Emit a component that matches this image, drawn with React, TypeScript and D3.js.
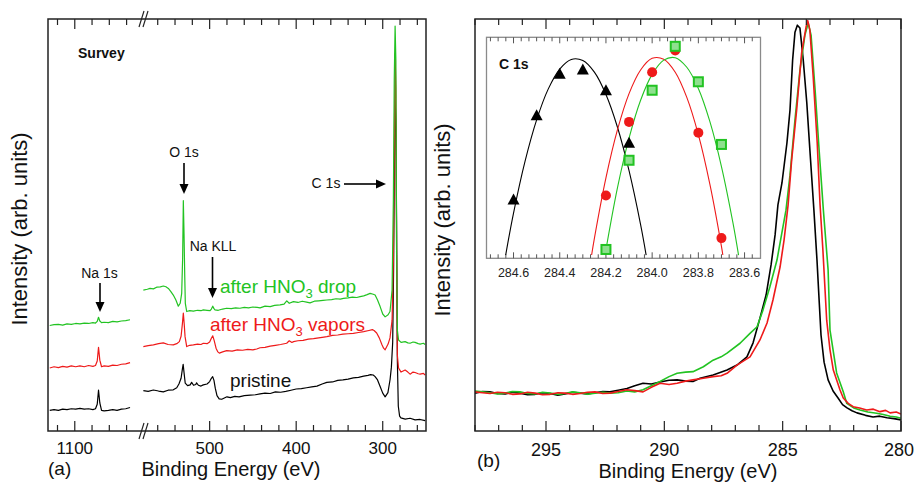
import React from "react";
import * as d3 from "d3";

type P = [number, number];

// ---------------- (a) Survey: Na 1s window (eV, intensity) ----------------
const naBlack: P[] = [[1129,5.0],[1124,5.2],[1119,5.0],[1114,5.3],[1109,5.2],[1104,5.4],[1099,5.3],[1094,5.5],[1089,5.3],[1084,5.4],[1079,5.2],[1076,5.4],[1074,6.5],[1072.5,9.9],[1071,6.8],[1069,5.0],[1066,4.9],[1061,5.0],[1056,5.2],[1051,5.0],[1046,5.3],[1041,5.4],[1036,5.7]];
const naRed: P[] = [[1129,15.3],[1124,15.6],[1119,15.4],[1114,15.7],[1109,15.5],[1104,15.8],[1099,15.6],[1094,15.8],[1089,15.6],[1084,15.9],[1079,15.7],[1076,15.9],[1074,17.0],[1072.5,20.3],[1071,17.2],[1069,15.6],[1066,15.8],[1061,15.7],[1056,16.0],[1051,15.9],[1046,16.2],[1041,16.3],[1036,16.6]];
const naGreen: P[] = [[1129,25.6],[1124,25.8],[1119,25.9],[1114,25.7],[1109,26.0],[1104,25.9],[1099,26.1],[1094,26.0],[1089,26.2],[1084,26.1],[1079,26.3],[1076,26.2],[1074,26.6],[1072.5,27.6],[1071,26.7],[1069,26.3],[1066,26.4],[1061,26.3],[1056,26.6],[1051,26.5],[1046,26.7],[1041,26.8],[1036,27.0]];

// ---------------- (a) Survey: main window ----------------
const surveyBlack: P[] = [[576.6,9.8],[571,9.6],[565,9.95],[559,9.7],[553.5,9.5],[548,9.9],[542,10.0],[538,10.5],[535.5,11.4],[533,12.8],[531.5,15.0],[530.6,16.2],[529.6,14.2],[528.2,11.6],[525.5,11.0],[522.5,11.2],[520.8,11.8],[518.6,11.1],[516,11.3],[515.1,11.7],[513,11.1],[510,10.9],[507.4,11.2],[503,11.4],[500,12.0],[498,12.8],[496.5,13.2],[495,12.3],[493.5,10.4],[491.5,8.6],[489,7.8],[486,7.7],[483,8.0],[480,8.3],[476,8.1],[471,8.4],[466,8.3],[460,8.6],[453,8.7],[447,8.8],[441.7,9.0],[436,9.2],[430,9.1],[424,9.5],[418,9.4],[412,9.6],[406,9.9],[400,10.2],[394,10.3],[388,10.5],[382,10.7],[376,10.9],[370,11.4],[364.6,11.8],[358,11.9],[352,12.3],[346,12.4],[340,12.6],[334,12.9],[328,13.0],[322,13.3],[317,13.5],[314,13.7],[311,13.6],[308.8,13.2],[306,12.4],[303,10.8],[300,9.2],[297.2,8.3],[294,9.3],[291.5,12.5],[290,15.5],[288.5,21.5],[287.4,40],[286.5,65],[285.7,80.3],[284.8,75.5],[284.0,51.2],[283.1,17.2],[282,6],[280.5,3.6],[279,3.2],[274,2.9],[268.4,3.1],[262.6,2.7],[256.8,2.8],[251,2.5]];
const surveyRed: P[] = [[576.6,20.5],[571,20.7],[565,20.9],[559,21.2],[553.5,21.4],[548,21.0],[542,20.9],[538,21.2],[535,21.7],[533,23.0],[531.5,26.0],[530.4,28.6],[529.4,26.0],[528.4,22.9],[526.5,20.5],[523,20.8],[518.8,20.9],[514,21.1],[510,21.0],[507.3,21.3],[503,21.2],[500,21.6],[498,22.5],[496.4,23.1],[494.8,22.0],[492.6,20.1],[490.5,19.2],[488.8,18.9],[485,19.2],[480.3,19.5],[474,19.4],[468,19.7],[462,19.6],[456,19.8],[450,19.7],[445.6,19.9],[441.7,20.2],[436,20.3],[430,20.6],[424,20.8],[418,21.0],[411,21.3],[408,21.9],[405,21.5],[403,21.7],[398,21.9],[392,22.0],[386,22.3],[380,22.4],[374,22.6],[368,22.8],[364.6,22.9],[358,23.2],[352,23.3],[346,23.5],[340,23.6],[334,23.7],[328,23.9],[322,24.1],[316,24.4],[312,24.6],[310,24.4],[307,23.8],[304,22.6],[301,21.0],[299,20.1],[297.2,19.7],[293.8,21.1],[291.6,22.6],[289.2,26.9],[287.7,41.5],[286.7,68.2],[285.7,91.7],[284.8,82.8],[284.0,43.9],[283.1,18.4],[281.7,15.3],[278.8,14.3],[274.1,14.8],[271,14.3],[268.4,13.8],[265,14.3],[262.6,14.2],[259,13.9],[256.8,13.8],[253,14.0],[251,13.6]];
const surveyGreen: P[] = [[576.6,34.2],[572,34.4],[568.9,34.6],[565,34.5],[561.2,34.9],[557,35.0],[553.5,35.2],[550.5,35.0],[547.7,34.6],[545,33.9],[542,33.0],[539,31.8],[536.2,30.3],[534,31.0],[532.3,33.4],[531.2,42],[530.4,55.9],[529.6,48],[528.8,38],[528.1,31.0],[526.5,29.0],[523,29.2],[518.8,29.1],[514,29.3],[510,29.2],[507.3,29.4],[503,29.3],[499.5,29.2],[498,29.6],[496.4,30.3],[495,29.7],[493.8,29.4],[490,29.3],[485,29.6],[480.3,29.8],[475,29.7],[470,29.9],[465,29.8],[460,30.0],[455,29.9],[450,30.1],[445,30.0],[441.7,29.9],[436,30.3],[430,30.2],[425,30.5],[418.6,30.6],[414,30.8],[410.9,31.6],[408,31.0],[403.2,31.4],[398,31.2],[393,31.5],[388,31.3],[384,31.1],[379,31.5],[374,31.6],[369,31.7],[364.6,31.8],[359,31.9],[354,32.1],[349,32.0],[345.4,32.2],[340,32.3],[335,32.5],[330,32.4],[326.1,32.6],[322,32.8],[318,33.1],[314.6,33.4],[311,33.2],[308.8,33.0],[306,31.8],[303,30.2],[300,28.4],[297.2,27.7],[293.8,28.2],[291.6,29.0],[289.2,34.2],[287.7,56.1],[286.7,85.2],[285.7,98.3],[284.8,90.0],[284.0,43.9],[283.1,24.5],[281.7,22.1],[278.8,21.5],[274.1,21.7],[271,21.4],[268.4,21.3],[265,21.6],[262.6,21.5],[259,21.2],[256.8,21.1],[253,21.3],[251,21.0]];

// ---------------- (b) C 1s high resolution ----------------
const c1sBlack: P[] = [[298.0,9.2],[297.68,9.6],[297.37,9.5],[297.05,9.1],[296.73,9.0],[296.42,9.4],[296.1,9.2],[295.78,8.8],[295.46,8.9],[295.15,9.3],[294.83,9.1],[294.5,8.7],[294.2,9.0],[293.88,9.4],[293.56,9.2],[293.25,9.0],[292.93,9.3],[292.6,9.6],[292.3,9.5],[291.95,9.9],[291.58,10.3],[291.25,11.0],[290.9,11.6],[290.55,11.4],[290.18,11.9],[289.8,12.3],[289.46,12.4],[289.1,12.1],[288.79,12.0],[288.49,12.8],[287.94,13.6],[287.35,14.8],[286.93,16.0],[286.51,18.0],[286.25,21.4],[285.96,27.4],[285.7,33.0],[285.49,40.3],[285.32,47.6],[285.2,54.9],[285.03,60.2],[284.82,69.9],[284.69,77.9],[284.58,90.0],[284.48,96.8],[284.38,98.5],[284.27,97.8],[284.13,90.0],[283.98,79.6],[283.85,68.2],[283.68,53.6],[283.55,41.5],[283.46,31.8],[283.38,23.3],[283.25,16.7],[283.08,12.4],[282.87,9.7],[282.66,8.0],[282.47,6.4],[282.28,5.6],[282.07,4.9],[281.86,4.4],[281.5,3.8],[281.18,3.4],[280.9,3.6],[280.59,3.2],[280.3,3.0],[280.0,2.7]];
const c1sRed: P[] = [[298.0,9.5],[297.68,9.3],[297.37,9.1],[297.05,9.4],[296.73,9.3],[296.42,8.9],[296.1,9.0],[295.78,9.4],[295.46,9.2],[295.15,8.8],[294.83,8.9],[294.5,9.3],[294.2,9.2],[293.88,8.9],[293.56,9.1],[293.25,9.4],[292.93,9.5],[292.6,9.1],[292.3,9.2],[291.95,9.6],[291.58,10.0],[291.25,9.8],[290.9,9.5],[290.55,10.6],[290.18,11.6],[289.8,11.3],[289.46,11.6],[289.1,12.1],[288.79,12.4],[288.35,12.8],[287.94,13.2],[287.6,13.4],[287.35,14.0],[286.93,16.0],[286.38,18.0],[285.96,22.1],[285.66,26.2],[285.41,31.8],[285.11,39.8],[284.94,46.4],[284.77,54.9],[284.62,65.8],[284.41,77.9],[284.2,91.7],[284.01,98.1],[283.94,99.6],[283.85,97.3],[283.71,86.0],[283.54,69.9],[283.42,54.9],[283.3,43.9],[283.14,26.9],[283.0,19.7],[282.86,14.8],[282.58,10.0],[282.44,8.0],[282.23,6.7],[282.02,5.9],[281.75,5.6],[281.45,5.1],[281.17,5.3],[280.89,4.7],[280.65,5.0],[280.46,4.4],[280.2,4.6],[280.0,4.1]];
const c1sGreen: P[] = [[298.0,9.7],[297.68,9.5],[297.37,9.3],[297.05,9.0],[296.73,9.2],[296.42,9.6],[296.1,9.5],[295.78,9.1],[295.46,9.0],[295.15,9.4],[294.83,9.2],[294.5,8.9],[294.2,9.1],[293.88,9.5],[293.56,9.3],[293.25,8.9],[292.93,9.2],[292.6,9.4],[292.3,9.2],[291.95,9.3],[291.58,9.7],[291.25,9.5],[290.9,10.0],[290.55,11.0],[290.18,12.0],[289.8,13.2],[289.46,14.0],[289.1,14.3],[288.79,14.4],[288.35,15.6],[287.94,17.2],[287.6,18.0],[287.35,18.9],[286.8,21.3],[286.38,23.7],[286.08,25.3],[285.83,29.4],[285.54,35.0],[285.24,41.5],[284.99,49.5],[284.86,53.6],[284.69,62.1],[284.48,75.5],[284.27,87.6],[284.06,96.1],[283.92,99.0],[283.8,96.1],[283.63,82.8],[283.46,68.2],[283.28,53.6],[283.08,39.1],[283.0,24.5],[282.72,14.1],[282.44,9.5],[282.29,6.7],[282.0,5.6],[281.73,5.1],[281.4,4.6],[281.03,4.3],[280.75,4.0],[280.46,3.6],[280.2,3.4],[280.0,3.1]];

// ---------------- inset: peak positions ----------------
const insetBlackX = [284.6, 284.5, 284.4, 284.3, 284.2, 284.1];
const insetBlackY = [26.9, 64.7, 83.3, 85.2, 75.9, 52.3];
const insetRedX = [284.2, 284.1, 284.0, 283.9, 283.8, 283.7];
const insetRedY = [28.7, 61.7, 84.0, 93.7, 56.8, 9.6];
const insetGreenX = [284.2, 284.1, 284.0, 283.9, 283.8, 283.7];
const insetGreenY = [4.5, 44.5, 75.9, 95.6, 79.7, 51.6];
const fitBlack: P[] = [[284.634,2],[284.6,20.8],[284.55,44.1],[284.5,62.6],[284.45,76.4],[284.4,85.4],[284.35,89.7],[284.3,89.2],[284.25,84.0],[284.2,74.0],[284.15,59.3],[284.1,39.8],[284.05,15.6],[284.026,2]];
const fitRed: P[] = [[284.262,2],[284.25,9.5],[284.2,36.6],[284.15,58.2],[284.1,74.4],[284.05,85.0],[284.0,90.2],[283.95,89.8],[283.9,84.0],[283.85,72.7],[283.8,56.0],[283.75,33.7],[283.7,5.9],[283.694,2]];
const fitGreen: P[] = [[284.204,2],[284.15,32.2],[284.1,54.4],[284.05,71.4],[284.0,83.0],[283.95,89.4],[283.9,90.5],[283.85,86.2],[283.8,76.7],[283.75,61.8],[283.7,41.7],[283.65,16.3],[283.626,2]];

// ---------------- tick labels ----------------
const surveyTickLabels = [1100, 500, 400, 300];
const c1sTickLabels = [295, 290, 285, 280];
const insetTickLabels = [284.6, 284.4, 284.2, 284.0, 283.8, 283.6];

const RED = "#ee1a1a";
const GREEN = "#22c322";
const FONT = "'Liberation Sans', Arial, sans-serif";

function Arrow({ x1, y1, x2, y2 }: { x1: number; y1: number; x2: number; y2: number }) {
  const a = Math.atan2(y2 - y1, x2 - x1);
  const L = 10, Wd = 4.5;
  const bx = x2 - L * Math.cos(a), by = y2 - L * Math.sin(a);
  const px = -Math.sin(a) * Wd, py = Math.cos(a) * Wd;
  return (
    <g>
      <line x1={x1} y1={y1} x2={bx} y2={by} stroke="#000" strokeWidth={1.6} />
      <polygon points={`${x2},${y2} ${bx + px},${by + py} ${bx - px},${by - py}`} fill="#000" />
    </g>
  );
}

export default function App() {
  // ---- panel (a) ----
  const A = { x0: 48, x1: 426, y0: 19, y1: 431, brk: 143 };
  const xNa = d3.scaleLinear().domain([1131, 1021]).range([A.x0, A.brk]);
  const xMain = d3.scaleLinear().domain([577, 250]).range([A.brk, A.x1]);
  const yA = d3.scaleLinear().domain([0, 100]).range([A.y1, A.y0]);
  const lineNa = d3.line<P>().x(d => xNa(d[0])).y(d => yA(d[1]));
  const lineMain = d3.line<P>().x(d => xMain(d[0])).y(d => yA(d[1]));
  const naTicks = d3.range(1120, 1030, -20);
  const mainTicks = d3.range(560, 250, -20);

  // ---- panel (b) ----
  const B = { x0: 475, x1: 901, y0: 19, y1: 431 };
  const xB = d3.scaleLinear().domain([298, 280]).range([B.x0, B.x1]);
  const yB = d3.scaleLinear().domain([0, 100]).range([B.y1, B.y0]);
  const lineB = d3.line<P>().x(d => xB(d[0])).y(d => yB(d[1]));
  const bTicks = d3.range(298, 279.5, -1);

  // ---- inset ----
  const I = { x0: 486.5, x1: 760.5, y0: 37.3, y1: 258.3 };
  const xI = d3.scaleLinear().domain([284.717, 283.531]).range([I.x0, I.x1]);
  const yI = d3.scaleLinear().domain([0, 100]).range([259.5, 36.5]);
  const lineI = d3.line<P>().x(d => xI(d[0])).y(d => yI(d[1])).curve(d3.curveCatmullRom);
  const iTicks = d3.range(0, 36).map(i => 284.7 - i / 30).filter(v => v >= 283.535 && v <= 284.715);
  const isMajorI = (v: number) => insetTickLabels.some(t => Math.abs(t - v) < 1e-6);

  const tickA = (x: number, major: boolean, k: string) => (
    <g key={k}>
      <line x1={x} x2={x} y1={A.y1} y2={A.y1 - (major ? 10 : 6)} stroke="#222" strokeWidth={1.2} />
      <line x1={x} x2={x} y1={A.y0} y2={A.y0 + (major ? 10 : 6)} stroke="#222" strokeWidth={1.2} />
    </g>
  );

  return (
    <svg width={915} height={482} style={{ position: "absolute", left: 0, top: 0, background: "#fff" }} fontFamily={FONT}>
      <defs>
        <clipPath id="clipA"><rect x={A.x0} y={A.y0} width={A.x1 - A.x0} height={A.y1 - A.y0} /></clipPath>
        <clipPath id="clipB"><rect x={B.x0} y={B.y0} width={B.x1 - B.x0} height={B.y1 - B.y0} /></clipPath>
      </defs>
      <rect x={0} y={0} width={915} height={482} fill="#fff" />

      {/* ================= panel (a) ================= */}
      <g clipPath="url(#clipA)" fill="none" strokeWidth={1.2} strokeLinejoin="round">
        <path d={lineNa(naBlack)!} stroke="#000" />
        <path d={lineNa(naRed)!} stroke={RED} />
        <path d={lineNa(naGreen)!} stroke={GREEN} />
        <path d={lineMain(surveyBlack)!} stroke="#000" />
        <path d={lineMain(surveyRed)!} stroke={RED} />
        <path d={lineMain(surveyGreen)!} stroke={GREEN} />
      </g>
      <rect x={A.x0} y={A.y0} width={A.x1 - A.x0} height={A.y1 - A.y0} fill="none" stroke="#222" strokeWidth={1.5} />
      {naTicks.map(v => tickA(xNa(v), surveyTickLabels.includes(v), "n" + v))}
      {mainTicks.map(v => tickA(xMain(v), surveyTickLabels.includes(v), "m" + v))}
      {/* axis break marks */}
      {[A.y0, A.y1].map((yy, i) => (
        <g key={"br" + i} stroke="#222" strokeWidth={1.2}>
          <line x1={A.brk - 4} y1={yy + 8} x2={A.brk + 1} y2={yy - 8} />
          <line x1={A.brk} y1={yy + 8} x2={A.brk + 5} y2={yy - 8} />
        </g>
      ))}
      {surveyTickLabels.map(v => (
        <text key={"tl" + v} x={v > 1000 ? xNa(v) : xMain(v)} y={454} fontSize={17} textAnchor="middle" fill="#111">{v}</text>
      ))}
      <text x={48} y={475} fontSize={19} fill="#111">(a)</text>
      <text x={231} y={476} fontSize={20} textAnchor="middle" fill="#111">Binding Energy (eV)</text>
      <text transform="translate(27,229) rotate(-90)" fontSize={22} textAnchor="middle" fill="#111">Intensity (arb. units)</text>
      <text x={78} y={58} fontSize={14} fontWeight="bold" fill="#111">Survey</text>

      {/* annotations */}
      <text x={99.5} y={278} fontSize={14} textAnchor="middle" fill="#111">Na 1s</text>
      <Arrow x1={100} y1={283} x2={100} y2={312} />
      <text x={184} y={157} fontSize={14} textAnchor="middle" fill="#111">O 1s</text>
      <Arrow x1={184} y1={163} x2={184} y2={194} />
      <text x={213} y={251} fontSize={14} textAnchor="middle" fill="#111">Na KLL</text>
      <Arrow x1={212.5} y1={257} x2={212.5} y2={298} />
      <text x={326} y={188} fontSize={14} textAnchor="middle" fill="#111">C 1s</text>
      <Arrow x1={344} y1={184} x2={386} y2={184} />

      <text x={220} y={293} fontSize={19} fill={GREEN}>
        <tspan>after HNO</tspan><tspan dy={5} fontSize={13}>3</tspan><tspan dy={-5}> drop</tspan>
      </text>
      <text x={210} y={331} fontSize={19} fill={RED}>
        <tspan>after HNO</tspan><tspan dy={5} fontSize={13}>3</tspan><tspan dy={-5}> vapors</tspan>
      </text>
      <text x={230} y={387} fontSize={19} fill="#111">pristine</text>

      {/* ================= panel (b) ================= */}
      <g clipPath="url(#clipB)" fill="none" strokeWidth={1.6} strokeLinejoin="round">
        <path d={lineB(c1sBlack)!} stroke="#000" />
        <path d={lineB(c1sGreen)!} stroke={GREEN} />
        <path d={lineB(c1sRed)!} stroke={RED} />
      </g>
      <rect x={B.x0} y={B.y0} width={B.x1 - B.x0} height={B.y1 - B.y0} fill="none" stroke="#222" strokeWidth={1.5} />
      {bTicks.map(v => {
        const major = c1sTickLabels.includes(v);
        const x = xB(v);
        return (
          <g key={"bt" + v}>
            <line x1={x} x2={x} y1={B.y1} y2={B.y1 - (major ? 10 : 6)} stroke="#222" strokeWidth={1.2} />
            <line x1={x} x2={x} y1={B.y0} y2={B.y0 + (major ? 10 : 6)} stroke="#222" strokeWidth={1.2} />
          </g>
        );
      })}
      {c1sTickLabels.map(v => (
        <text key={"bl" + v} x={v === 280 ? xB(v) - 2 : xB(v)} y={456} fontSize={18} textAnchor="middle" fill="#111">{v}</text>
      ))}
      <text x={477} y={467} fontSize={19} fill="#111">(b)</text>
      <text x={688} y={478} fontSize={20} textAnchor="middle" fill="#111">Binding Energy (eV)</text>
      <text transform="translate(450,220) rotate(-90)" fontSize={22} textAnchor="middle" fill="#111">Intensity (arb. units)</text>

      {/* ================= inset ================= */}
      <rect x={I.x0} y={I.y0} width={I.x1 - I.x0} height={I.y1 - I.y0} fill="#fff" stroke="#8a8a8a" strokeWidth={1.3} />
      {iTicks.map((v, i) => {
        const x = xI(v);
        const len = isMajorI(v) ? 6 : 4;
        return (
          <g key={"it" + i} stroke="#555" strokeWidth={1}>
            <line x1={x} x2={x} y1={I.y1} y2={I.y1 - len} />
            <line x1={x} x2={x} y1={I.y0} y2={I.y0 + len} />
          </g>
        );
      })}
      {insetTickLabels.map(v => (
        <text key={"il" + v} x={xI(v)} y={277} fontSize={12.5} textAnchor="middle" fill="#222">{d3.format(".1f")(v)}</text>
      ))}
      <text x={499} y={69} fontSize={14} fontWeight="bold" fill="#111">C 1s</text>
      <g fill="none" strokeWidth={1.1}>
        <path d={lineI(fitBlack)!} stroke="#000" />
        <path d={lineI(fitRed)!} stroke={RED} />
        <path d={lineI(fitGreen)!} stroke={GREEN} />
      </g>
      {insetBlackX.map((v, i) => {
        const x = xI(v), y = yI(insetBlackY[i]);
        return <polygon key={"tb" + i} points={`${x},${y - 6} ${x - 6},${y + 5} ${x + 6},${y + 5}`} fill="#000" />;
      })}
      {insetRedX.map((v, i) => (
        <circle key={"cr" + i} cx={xI(v)} cy={yI(insetRedY[i])} r={5} fill={RED} />
      ))}
      {insetGreenX.map((v, i) => (
        <rect key={"sg" + i} x={xI(v) - 4.5} y={yI(insetGreenY[i]) - 4.5} width={9} height={9} fill="#8ee08e" stroke={GREEN} strokeWidth={2} />
      ))}
    </svg>
  );
}
